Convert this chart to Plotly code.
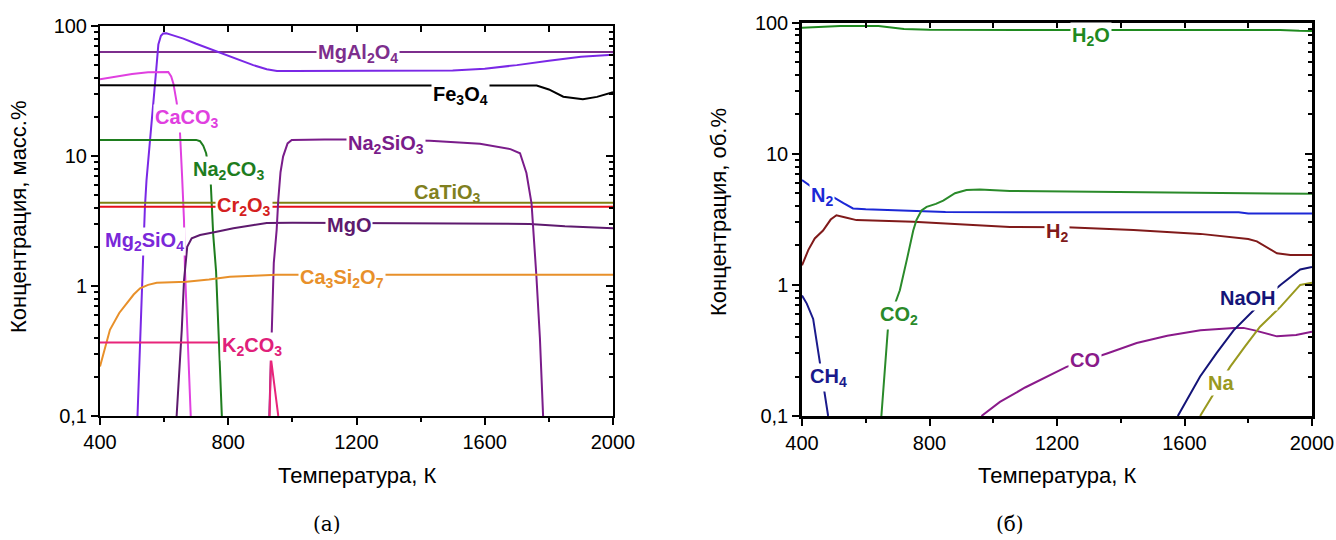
import plotly.graph_objects as go

# ---------------- data: panel (а) ----------------
mgal2o4_T = [400, 2000]
mgal2o4 = [63, 63]

mg2sio4_T = [517, 521, 526, 531, 535, 540, 545, 555, 566, 575, 582, 590, 597, 607, 623, 660, 700, 740, 774, 816, 878, 920, 952, 1000, 1200, 1500, 1600, 1700, 1800, 1900, 2000]
mg2sio4 = [0.1, 0.2, 0.5, 1.1, 2.5, 4, 6.5, 12, 22.6, 45, 72, 84, 87.5, 88, 85.5, 80, 73, 67, 63, 57.5, 50, 46.5, 45, 45, 45, 45.5, 47, 50, 54, 58, 60]

caco3_T = [400, 450, 500, 550, 597, 613, 622, 629, 639, 649, 656, 662, 665, 672, 683]
caco3 = [39, 41, 42.7, 44, 44.6, 44.3, 41, 36, 26, 16, 7, 3.2, 1.33, 0.46, 0.1]

fe3o4_T = [400, 1700, 1762, 1800, 1845, 1906, 1950, 2000]
fe3o4 = [35, 35, 34.8, 32.5, 28.6, 27.3, 28.5, 31]

na2co3_T = [400, 700, 712, 722, 731, 745, 753, 762, 771, 780]
na2co3 = [13.3, 13.3, 13, 12, 10.5, 6.5, 2.5, 1.3, 0.367, 0.1]

catio3_T = [400, 2000]
catio3 = [4.37, 4.37]

cr2o3_T = [400, 2000]
cr2o3 = [4.07, 4.07]

mgo_T = [639, 647, 655, 662, 668, 672, 686, 712, 760, 816, 880, 920, 1000, 1400, 1740, 1850, 2000]
mgo = [0.1, 0.2, 0.46, 1.1, 1.5, 2.0, 2.33, 2.47, 2.6, 2.78, 2.95, 3.05, 3.07, 3.05, 3.0, 2.88, 2.78]

na2sio3_T = [928, 935, 942, 951, 956, 963, 971, 985, 998, 1100, 1200, 1429, 1585, 1680, 1710, 1730, 1746, 1761, 1772, 1782]
na2sio3 = [0.1, 0.46, 1.5, 2.7, 4.6, 7.5, 9.9, 12.5, 13.3, 13.4, 13.4, 13.1, 12.4, 11.3, 10.5, 7.4, 4.3, 1.2, 0.4, 0.1]

ca3si2o7_T = [400, 431, 460, 483, 505, 525, 550, 577, 620, 670, 740, 805, 880, 951, 2000]
ca3si2o7 = [0.24, 0.46, 0.62, 0.74, 0.86, 0.96, 1.02, 1.06, 1.07, 1.08, 1.12, 1.18, 1.2, 1.22, 1.22]

k2co3_T = [400, 768, 769, 929, 933, 944, 956]
k2co3 = [0.367, 0.367, None, 0.1, 0.28, 0.171, 0.1]

# ---------------- data: panel (б) ----------------
h2o_T = [400, 480, 520, 640, 690, 720, 800, 1000, 1200, 1600, 1900, 1960, 2000]
h2o = [91.6, 93, 94.4, 94.4, 92, 89.6, 88.5, 88, 88, 88, 88, 86.8, 86.5]

n2_T = [400, 430, 470, 497, 530, 560, 600, 850, 1200, 1770, 1800, 2000]
n2 = [6.3, 5.6, 5.0, 4.7, 4.2, 3.83, 3.78, 3.6, 3.58, 3.58, 3.5, 3.5]

h2_T = [400, 420, 440, 466, 490, 508, 540, 571, 749, 1052, 1230, 1440, 1650, 1754, 1800, 1827, 1860, 1890, 1932, 2000]
h2 = [1.41, 1.85, 2.26, 2.6, 3.15, 3.4, 3.25, 3.12, 3.03, 2.77, 2.75, 2.62, 2.45, 2.3, 2.24, 2.15, 1.92, 1.74, 1.69, 1.69]

co2_T = [649, 655, 662, 670, 690, 707, 730, 749, 759, 775, 791, 820, 843, 880, 916, 958, 1052, 1377, 1600, 1800, 2000]
co2 = [0.1, 0.15, 0.25, 0.48, 0.7, 0.91, 1.6, 2.6, 3.12, 3.7, 3.94, 4.15, 4.4, 5.0, 5.3, 5.35, 5.2, 5.13, 5.05, 5.0, 4.95]

ch4_T = [400, 415, 435, 453, 471, 482]
ch4 = [0.83, 0.72, 0.55, 0.29, 0.157, 0.1]

co_T = [963, 1021, 1100, 1230, 1357, 1450, 1546, 1650, 1755, 1785, 1820, 1859, 1890, 1950, 2000]
co = [0.1, 0.128, 0.165, 0.237, 0.3, 0.36, 0.41, 0.45, 0.47, 0.47, 0.45, 0.425, 0.405, 0.415, 0.44]

naoh_T = [1579, 1649, 1700, 1754, 1817, 1860, 1901, 1963, 2000]
naoh = [0.1, 0.2, 0.3, 0.45, 0.64, 0.82, 1.0, 1.31, 1.37]

na_T = [1649, 1700, 1743, 1790, 1837, 1901, 1963, 2000]
na = [0.1, 0.16, 0.237, 0.34, 0.48, 0.68, 1.0, 1.04]

# tick labels
x_ticks = [400, 800, 1200, 1600, 2000]
x_minor = [600, 1000, 1400, 1800]
x_all = [600, 800, 1000, 1200, 1400, 1600, 1800]
y_ticks = [0.1, 1, 10, 100]
y_ticktext = ["0,1", "1", "10", "100"]
y_minor = [0.2, 0.3, 0.4, 0.5, 0.6, 0.7, 0.8, 0.9, 2, 3, 4, 5, 6, 7, 8, 9, 20, 30, 40, 50, 60, 70, 80, 90]

FONT = "Arial, Liberation Sans, sans-serif"
W, H = 1336, 540

left_series = [
    (mgal2o4_T, mgal2o4, "#7D2E8D"),
    (mg2sio4_T, mg2sio4, "#7A28E6"),
    (caco3_T, caco3, "#E040E0"),
    (fe3o4_T, fe3o4, "#000000"),
    (na2co3_T, na2co3, "#1E7D1E"),
    (catio3_T, catio3, "#808010"),
    (cr2o3_T, cr2o3, "#E8101A"),
    (mgo_T, mgo, "#5E1A6E"),
    (na2sio3_T, na2sio3, "#7A1C8A"),
    (ca3si2o7_T, ca3si2o7, "#E8902A"),
    (k2co3_T, k2co3, "#E8257A"),
]
right_series = [
    (h2o_T, h2o, "#1F8A1F"),
    (n2_T, n2, "#1C28D6"),
    (h2_T, h2, "#801A1A"),
    (co2_T, co2, "#2A8A2A"),
    (ch4_T, ch4, "#1A1A8C"),
    (co_T, co, "#8A1A8A"),
    (naoh_T, naoh, "#141478"),
    (na_T, na, "#99991F"),
]

fig = go.Figure()
for xs, ys, c in left_series:
    fig.add_trace(go.Scatter(x=xs, y=ys, mode="lines", line=dict(color=c, width=2),
                             xaxis="x", yaxis="y", showlegend=False, hoverinfo="skip"))
for xs, ys, c in right_series:
    fig.add_trace(go.Scatter(x=xs, y=ys, mode="lines", line=dict(color=c, width=2),
                             xaxis="x2", yaxis="y2", showlegend=False, hoverinfo="skip"))
# empty traces so the mirrored frame axes (top/right, inward ticks) get drawn
for xa, ya in (("x3", "y3"), ("x4", "y4")):
    fig.add_trace(go.Scatter(x=[None], y=[None], mode="lines", xaxis=xa, yaxis=ya,
                             showlegend=False, hoverinfo="skip"))

dom_x1 = [100 / W, 613 / W]
dom_y1 = [1 - 416 / H, 1 - 26 / H]
dom_x2 = [802 / W, 1312 / W]
dom_y2 = [1 - 416 / H, 1 - 22.7 / H]


def xax(dom, anchor, lw):
    return dict(domain=dom, anchor=anchor, range=[400, 2000], tickmode="array", tickvals=x_ticks,
                ticks="outside", ticklen=7, tickwidth=2, tickcolor="black", automargin=False,
                showline=True, linewidth=lw, linecolor="black", showgrid=False, zeroline=False,
                tickfont=dict(family=FONT, size=20, color="black"),
                minor=dict(tickvals=x_minor, ticks="outside", ticklen=4, tickwidth=2, tickcolor="black"))


def yax(dom, anchor, lw):
    return dict(domain=dom, anchor=anchor, type="log", range=[-1, 2], tickmode="array",
                tickvals=y_ticks, ticktext=y_ticktext, automargin=False,
                ticks="outside", ticklen=7, tickwidth=2, tickcolor="black",
                showline=True, linewidth=lw, linecolor="black", showgrid=False, zeroline=False,
                tickfont=dict(family=FONT, size=20, color="black"),
                minor=dict(tickvals=y_minor, ticks="outside", ticklen=4, tickwidth=1.5, tickcolor="black"))


def xtop(dom, over, anchor, lw):
    return dict(domain=dom, overlaying=over, anchor=anchor, side="top", range=[400, 2000],
                tickmode="array", automargin=False,
                tickvals=x_all, ticks="inside", ticklen=6, tickwidth=2, tickcolor="black",
                showticklabels=False, showline=True, linewidth=lw, linecolor="black",
                showgrid=False, zeroline=False)


def yright(dom, over, anchor, lw):
    return dict(domain=dom, overlaying=over, anchor=anchor, side="right", type="log", range=[-1, 2],
                tickmode="array", tickvals=y_ticks, ticks="inside", ticklen=7, tickwidth=2,
                tickcolor="black", showticklabels=False, showline=True, linewidth=lw,
                linecolor="black", showgrid=False, zeroline=False, automargin=False,
                minor=dict(tickvals=y_minor, ticks="inside", ticklen=4, tickwidth=1.5, tickcolor="black"))


fig.update_layout(
    width=W, height=H, margin=dict(l=0, r=0, t=0, b=0, autoexpand=False),
    paper_bgcolor="white", plot_bgcolor="white", showlegend=False,
    xaxis=xax(dom_x1, "y", 2), yaxis=yax(dom_y1, "x", 2),
    xaxis2=xax(dom_x2, "y2", 2.5), yaxis2=yax(dom_y2, "x2", 2.5),
    xaxis3=xtop(dom_x1, "x", "y3", 2), yaxis3=yright(dom_y1, "y", "x3", 2),
    xaxis4=xtop(dom_x2, "x2", "y4", 2.5), yaxis4=yright(dom_y2, "y2", "x4", 2.5),
)

ann = []


def lab(text, x, logy, color, xr, yr, bg=True):
    ann.append(dict(text=text, x=x, y=logy, xref=xr, yref=yr, showarrow=False,
                    font=dict(family=FONT, size=20, color=color),
                    bgcolor="white" if bg else "rgba(0,0,0,0)", borderpad=1,
                    xanchor="center", yanchor="middle"))


# panel (а) labels  (y given as log10 for log axes)
lab("<b>MgAl<sub>2</sub>O<sub>4</sub></b>", 1204, 1.785, "#7D2E8D", "x", "y")
lab("<b>Fe<sub>3</sub>O<sub>4</sub></b>", 1525, 1.469, "#000000", "x", "y")
lab("<b>CaCO<sub>3</sub></b>", 671, 1.292, "#E040E0", "x", "y")
lab("<b>Na<sub>2</sub>CO<sub>3</sub></b>", 802, 0.892, "#1E7D1E", "x", "y")
lab("<b>Cr<sub>2</sub>O<sub>3</sub></b>", 849, 0.608, "#D42020", "x", "y")
lab("<b>CaTiO<sub>3</sub></b>", 1485, 0.715, "#808020", "x", "y", bg=False)
lab("<b>MgO</b>", 1176, 0.473, "#5E1A6E", "x", "y")
lab("<b>Mg<sub>2</sub>SiO<sub>4</sub></b>", 539, 0.346, "#7A28D9", "x", "y")
lab("<b>Na<sub>2</sub>SiO<sub>3</sub></b>", 1292, 1.085, "#7A1C8A", "x", "y")
lab("<b>Ca<sub>3</sub>Si<sub>2</sub>O<sub>7</sub></b>", 1155, 0.054, "#E8902A", "x", "y")
lab("<b>K<sub>2</sub>CO<sub>3</sub></b>", 874, -0.469, "#E0207A", "x", "y")

# panel (б) labels
lab("<b>H<sub>2</sub>O</b>", 1307, 1.891, "#1F8A1F", "x2", "y2")
lab("<b>N<sub>2</sub></b>", 462, 0.677, "#1C28D6", "x2", "y2")
lab("<b>H<sub>2</sub></b>", 1200, 0.402, "#801A1A", "x2", "y2")
lab("<b>CO<sub>2</sub></b>", 704, -0.231, "#2A8A2A", "x2", "y2")
lab("<b>CH<sub>4</sub></b>", 484, -0.705, "#1A1A8C", "x2", "y2")
lab("<b>CO</b>", 1288, -0.575, "#8A1A8A", "x2", "y2")
lab("<b>NaOH</b>", 1800, -0.102, "#141478", "x2", "y2")
lab("<b>Na</b>", 1715, -0.75, "#99991F", "x2", "y2")


def ptxt(text, px, py, size, family=FONT, angle=0):
    ann.append(dict(text=text, x=px / W, y=1 - py / H, xref="paper", yref="paper",
                    showarrow=False, textangle=angle, xanchor="center", yanchor="middle",
                    font=dict(family=family, size=size, color="black")))


ptxt("Концентрация, масс.%", 18, 217, 22, angle=-90)
ptxt("Концентрация, об.%", 718, 212, 22, angle=-90)
ptxt("Температура, К", 356.5, 475, 22)
ptxt("Температура, К", 1057, 475, 22)
ptxt("(а)", 327, 524, 20, family="DejaVu Serif, serif")
ptxt("(б)", 1010, 524, 20, family="DejaVu Serif, serif")

fig.update_layout(annotations=ann)
fig.write_html("out.html", config={"displayModeBar": False},
               post_script="document.body.style.margin='0';document.body.style.overflow='hidden';")
